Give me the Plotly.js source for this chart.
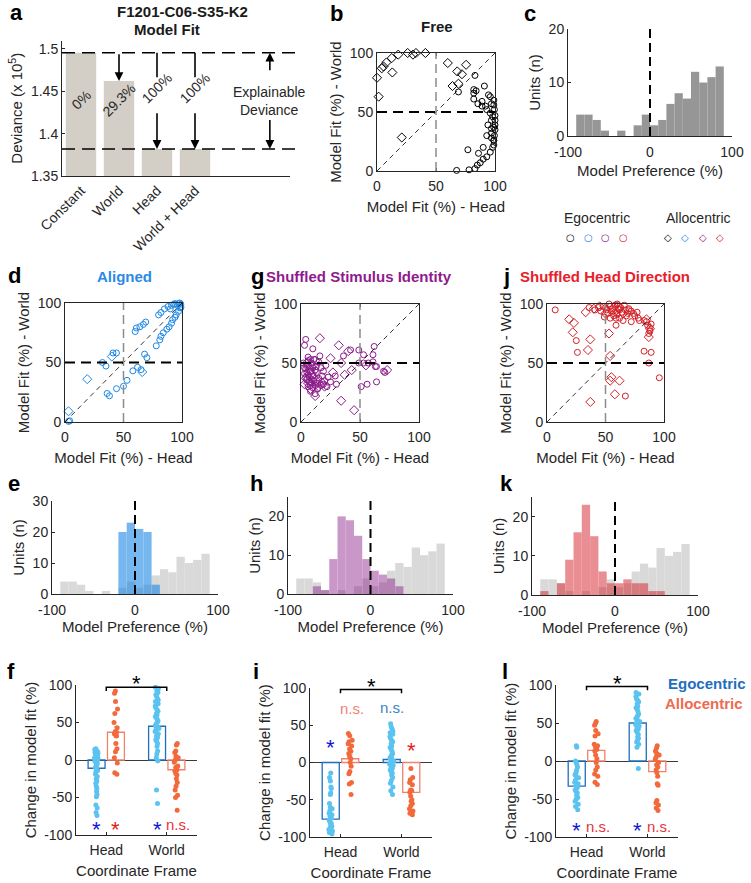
<!DOCTYPE html>
<html><head><meta charset="utf-8">
<script src="https://cdn.plot.ly/plotly-3.0.1.min.js"></script>
<style>html,body{margin:0;padding:0;background:#fff;}#chart{width:751px;height:883px;}</style>
</head><body><div id="chart"></div>
<script>
// ---------------- DATA ----------------
// Panel a
const aCats = ['Constant', 'World', 'Head', 'World + Head'];
const aDeviance = [1.4955, 1.4622, 1.382, 1.382];
const aFitLabels = ['0%', '29.3%', '100%', '100%'];

// Panel b (Free)
const freeEgoHead = [83, 91, 94.5, 96, 82, 84, 82, 82, 85.5, 89, 92, 93, 96, 97, 99, 94, 93, 97, 99, 98, 96, 90, 77, 93, 90, 87.5, 85, 83, 78, 67.5, 89, 99, 99, 99.5, 100, 100, 100, 100, 99.5, 99, 99, 97, 98, 97, 97, 86, 69];
const freeEgoWorld = [81, 72, 64.5, 63, 69, 68, 66, 61, 57, 55, 55, 52, 49, 43, 37, 39, 30, 32, 26, 20, 16, 20, 18, 12, 10, 7, 5, 2, 1, 0.5, 59, 60, 56, 52, 47, 43, 39, 35, 30, 26, 22, 57, 46, 36, 28, 15, 67];
const freeAlloHead = [0, 1.4, 4, 5.5, 8, 12.5, 13, 18, 26, 30.5, 33, 41, 21, 60, 75.5, 68, 72, 64, 69];
const freeAlloWorld = [79, 63, 87, 88.6, 92, 95.7, 83.5, 98.6, 100, 98.6, 100, 100, 28.4, 91.5, 90, 84.4, 82, 72, 74];

// Panel c / histograms
const histBins = [-85, -75, -65, -55, -45, -35, -25, -15, -5, 5, 15, 25, 35, 45, 55, 65, 75, 85];
const freePrefCounts = [4, 4, 3, 1, 0, 1, 0, 2, 4, 2, 3, 6, 8, 7, 12, 10, 11, 13];
const alignedPrefCounts = [0, 0, 0, 0, 0, 0, 0, 20, 23, 21, 20, 3, 0, 0, 0, 0, 0, 0];
const stimShufPrefCounts = [0, 0, 2, 1, 9, 20, 19, 15, 9, 6, 5, 4, 2, 0, 0, 0, 0, 0];
const hdShufPrefCounts = [1, 0, 3, 9, 16, 23, 15, 6, 3, 3, 4, 3, 3, 1, 1, 0, 0, 0];

// Panel d (Aligned)
const alignEgoHead = [4, 3, 32, 35, 41, 44, 36, 38, 44, 50, 53, 58, 62, 65, 68, 70, 60, 61, 64, 67, 69, 78, 81, 82, 84, 87, 89, 91, 92, 94, 95, 97, 98, 99, 80, 82, 85, 88, 91, 94, 97, 99, 99, 96, 98, 93, 90];
const alignEgoWorld = [1, 0.5, 50, 47, 58, 58, 24, 22, 28, 30, 35, 43, 46, 44, 57, 54, 76, 79, 80, 82, 84, 64, 69, 72, 75, 78, 80, 83, 86, 88, 90, 93, 96, 97, 90, 92, 95, 97, 98, 99.5, 99.5, 99, 96, 98, 100, 99, 95];
const alignAlloHead = [3, 19, 40, 66];
const alignAlloWorld = [9, 36, 55, 42];

// Panel g (Shuffled Stimulus Identity)
const stimEgoHead = [3, 4, 10, 2, 3, 5, 6, 8, 9, 10, 12, 13, 15, 16, 18, 19, 22, 25, 29, 30, 36, 42, 49, 49, 53, 53, 51, 56, 57, 61, 62, 61, 63, 64, 64, 70, 71, 4, 5, 6, 7, 8, 6, 7, 9, 11, 12, 14, 10, 8, 7, 5, 9, 11, 13, 15, 17, 20, 23, 14, 12, 4, 3, 6, 8, 10, 17, 19, 21];
const stimEgoWorld = [65, 70, 62, 50, 41, 36, 30, 26, 33, 39, 44, 47, 51, 56, 39, 32, 30, 34, 39, 32, 56, 61, 50, 61, 57, 50, 30, 32, 50, 51, 64, 57, 47, 47, 34, 43, 42, 45, 48, 52, 47, 43, 40, 38, 36, 35, 31, 33, 29, 31, 34, 42, 50, 53, 42, 37, 31, 35, 38, 28, 24, 38, 46, 55, 53, 46, 46, 43, 48];
const stimAlloHead = [16, 32, 25, 34, 43, 37, 34, 45, 12, 73, 40, 27, 55, 5, 7, 9, 11, 13, 6, 8, 10, 12, 4, 3, 15, 18, 20];
const stimAlloWorld = [71, 65, 54, 50, 44, 40, 18, 10, 22, 44, 60, 42, 48, 50, 45, 41, 38, 35, 33, 28, 48, 52, 37, 32, 30, 33, 30];

// Panel j (Shuffled Head Direction)
const hdEgoHead = [7, 25, 26, 59, 83, 89, 87, 96, 67, 36, 41, 44, 48, 51, 54, 58, 61, 64, 67, 69, 72, 75, 77, 79, 72, 65, 54, 49, 57, 59, 62, 83, 85, 86, 88, 88, 87, 89, 52, 55, 58, 60, 63, 66, 70, 56, 53, 60, 46, 50, 62, 68, 74, 78];
const hdEgoWorld = [95, 69, 59, 82, 60, 59, 50, 37.5, 22, 97, 95, 97, 98, 95, 98, 99, 96, 93, 95, 92, 94, 90, 93, 86, 85, 86, 88, 89, 90, 88, 88, 86, 85, 82, 80, 77, 75, 83, 92, 94, 93, 91, 97, 99, 96, 96, 100, 100, 94, 97, 95, 90, 92, 88];
const hdAlloHead = [33, 19, 23, 22, 37, 35, 58, 62, 55, 54, 53, 54, 37, 40, 45, 57, 61, 65, 85, 87, 88, 70, 50];
const hdAlloWorld = [93, 87, 84, 76, 70, 61, 23.5, 35, 38, 35, 75, 56, 17, 96, 98, 97, 98, 92, 87, 72, 79, 94, 92];

// Panels f, i, l (change in model fit)
const frameCats = ['Head', 'World'];
const fEgoMean = [-11, 45], fAlloMean = [37, -13], fEgoSem = [3, 4], fAlloSem = [7, 5];
const fEgoHead = [15, 14, 13, 12, 11, 10, 9, 8, 7, 6, 5, 5, 4, 3, 2, 2, 1, 0, 0, -1, -2, -2, -3, -4, -5, -7, -8, -10, -12, -14, -16, -19, -22, -25, -28, -31, -35, -38, -42, -46, -49, -60, -64, -70, -74];
const fAlloHead = [92, 89, 78, 68, 62, 50, 43, 38, 37, 35, 34, 32, 22, 15, 11, 3, -4, -17, -19];
const fEgoWorld = [97, 95, 92, 90, 87, 85, 82, 80, 78, 75, 72, 70, 67, 65, 62, 60, 58, 56, 54, 52, 50, 48, 46, 44, 42, 40, 38, 35, 32, 30, 27, 25, 22, 18, 12, 8, 3, -1, -40, -58];
const fAlloWorld = [22, 20, 12, 10, 5, 3, 0, -3, -8, -10, -13, -15, -18, -20, -25, -30, -35, -40, -47, -50, -67];

const iEgoMean = [-76, 4], iAlloMean = [5, -40], iEgoSem = [5, 3], iAlloSem = [6, 5];
const iEgoHead = [-14, -20, -25, -33, -35, -41, -43, -55, -60, -62, -65, -68, -70, -72, -75, -78, -80, -82, -84, -86, -88, -90, -92, -94, -96];
const iAlloHead = [39, 36, 30, 28, 25, 22, 18, 15, 12, 8, 5, 0, -5, -12, -15, -27, -29, -43];
const iEgoWorld = [52, 48, 45, 42, 40, 38, 35, 33, 30, 28, 25, 22, 20, 18, 15, 12, 10, 8, 6, 4, 2, 0, -2, -4, -6, -8, -10, -12, -14, -17, -20, -24, -28, -33, -38, -43];
const iAlloWorld = [-8, -20, -23, -27, -30, -37, -38, -40, -45, -50, -52, -55, -58, -62, -65, -68, -70];

const lEgoMean = [-33, 50], lAlloMean = [14, -14], lEgoSem = [4, 4], lAlloSem = [6, 7];
const lEgoHead = [20, 18, 0, -2, -5, -8, -12, -15, -18, -20, -22, -25, -28, -30, -33, -35, -38, -40, -42, -45, -48, -50, -53, -57, -60, -64];
const lAlloHead = [52, 50, 47, 40, 36, 33, 22, 20, 18, 15, 13, 8, 3, -2, -8, -12, -17, -20, -28, -31];
const lEgoWorld = [90, 88, 85, 82, 80, 78, 75, 72, 70, 68, 65, 62, 60, 58, 56, 54, 52, 50, 48, 46, 44, 42, 40, 38, 35, 32, 30, 27, 25, 22, 18, -10];
const lAlloWorld = [20, 17, 13, 10, 8, 5, 2, -2, -5, -8, -12, -15, -20, -30, -32, -52, -55, -58, -62, -65];

// ---------------- STYLE / LAYOUT ----------------
const W = 751, H = 883;
const FONT = '"Liberation Sans", Arial, Helvetica, sans-serif';
const TXT = '#262626';
const C = {
  free: '#000000', aligned: '#1E88E5', stim: '#8B1A89', hd: '#D42027',
  egoBar: '#1F6FBF', alloBar: '#F0826E', egoDot: '#5BC3F0', alloDot: '#F26A3C',
  hist: '#969696', histLight: '#d9d9d9'
};
const xd = (l, r) => [l / W, r / W];
const yd = (t, b) => [1 - b / H, 1 - t / H];

function axis(extra) {
  return Object.assign({
    showgrid: false, zeroline: false, showline: true, linecolor: TXT, linewidth: 1,
    ticks: 'inside', ticklen: 3, tickcolor: TXT, automargin: false, fixedrange: true,
    tickfont: {size: 14, color: TXT, family: FONT}
  }, extra);
}
function ttl(t, so, sz) { return {text: t, standoff: so, font: {size: sz || 15, color: TXT, family: FONT}}; }

const layout = {
  width: W, height: H, margin: {l: 0, r: 0, t: 0, b: 0},
  paper_bgcolor: '#ffffff', plot_bgcolor: 'rgba(0,0,0,0)', showlegend: false,
  barmode: 'overlay', font: {family: FONT, size: 14, color: TXT},
  shapes: [], annotations: []
};

const traces = [];

// ---- Panel a ----
layout.xaxis = axis({domain: xd(62, 290), anchor: 'y', range: [0.5, 6.5], tickvals: [1, 2, 3, 4], ticktext: aCats, tickangle: -45, ticks: ''});
layout.yaxis = axis({domain: yd(40.5, 176), anchor: 'x', range: [1.35, 1.51], tickvals: [1.35, 1.4, 1.45, 1.5], ticktext: ['1.35', '1.4', '1.45', '1.5'], title: ttl('Deviance (x 10<sup>5</sup>)', 4)});
traces.push({type: 'bar', x: [1, 2, 3, 4], y: aDeviance, width: 0.8, marker: {color: '#d4cfc6', line: {width: 0}}, xaxis: 'x', yaxis: 'y', hoverinfo: 'skip'});
const dashA = {color: '#000', width: 1.5, dash: '13px,7px'};
layout.shapes.push({type: 'line', xref: 'paper', yref: 'y', x0: 62 / W, x1: 298 / W, y0: aDeviance[0], y1: aDeviance[0], line: dashA});
layout.shapes.push({type: 'line', xref: 'paper', yref: 'y', x0: 62 / W, x1: 298 / W, y0: aDeviance[2], y1: aDeviance[2], line: dashA});
function arrow(x, yHead, yTail) {
  return {xref: 'x', yref: 'y', axref: 'x', ayref: 'y', x: x, y: yHead, ax: x, ay: yTail, text: '', showarrow: true,
    arrowhead: 2, arrowsize: 1.1, arrowwidth: 1.6, arrowcolor: '#000', standoff: 0, startstandoff: 0};
}
layout.annotations.push(arrow(2, aDeviance[1], aDeviance[0]));
[3, 4].forEach(xx => {
  layout.shapes.push({type: 'line', xref: 'x', yref: 'y', x0: xx, x1: xx, y0: aDeviance[0], y1: 1.4666, line: {color: '#000', width: 1.6}});
  layout.annotations.push(arrow(xx, aDeviance[xx - 1], 1.426));
});
layout.annotations.push(arrow(5.97, aDeviance[0], 1.473));
layout.annotations.push(arrow(5.97, aDeviance[2], 1.418));
const pctY = [1.440, 1.440, 1.454, 1.454];
aFitLabels.forEach((t, k) => layout.annotations.push({xref: 'x', yref: 'y', x: k + 1, y: pctY[k], text: t, textangle: -45, showarrow: false, font: {size: 14, color: TXT}}));
layout.annotations.push({xref: 'x', yref: 'y', x: 5.97, y: 1.4495, text: 'Explainable', showarrow: false, font: {size: 14, color: TXT}});
layout.annotations.push({xref: 'x', yref: 'y', x: 5.97, y: 1.428, text: 'Deviance', showarrow: false, font: {size: 14, color: TXT}});

// ---- scatter panels ----
function scatterPanel(n, domX, domY, eh, ew, ah, aw, col) {
  const xa = 'x' + n, ya = 'y' + n;
  layout['xaxis' + n] = axis({domain: domX, anchor: ya, range: [0, 100], tickvals: [0, 50, 100], mirror: 'ticks', ticklabelstandoff: 2, title: ttl('Model Fit (%) - Head', 8)});
  layout['yaxis' + n] = axis({domain: domY, anchor: xa, range: [0, 100], tickvals: [0, 50, 100], mirror: 'ticks', title: ttl('Model Fit (%) - World', 4)});
  layout.shapes.push({type: 'line', xref: xa, yref: ya, x0: 0, y0: 0, x1: 100, y1: 100, line: {color: '#000', width: 0.8, dash: '5px,4px'}});
  layout.shapes.push({type: 'line', xref: xa, yref: ya, x0: 50, y0: 0, x1: 50, y1: 100, line: {color: '#8c8c8c', width: 1.5, dash: '9px,5px'}});
  layout.shapes.push({type: 'line', xref: xa, yref: ya, x0: 0, y0: 50, x1: 100, y1: 50, line: {color: '#000', width: 2, dash: '10px,6px'}});
  traces.push({type: 'scatter', mode: 'markers', x: eh, y: ew, xaxis: xa, yaxis: ya, cliponaxis: false,
    marker: {symbol: 'circle-open', size: 6, color: col, line: {width: 1, color: col}}, hoverinfo: 'skip'});
  traces.push({type: 'scatter', mode: 'markers', x: ah, y: aw, xaxis: xa, yaxis: ya, cliponaxis: false,
    marker: {symbol: 'diamond-open', size: 7, color: col, line: {width: 1, color: col}}, hoverinfo: 'skip'});
}
scatterPanel(2, xd(377, 495), yd(53, 171), freeEgoHead, freeEgoWorld, freeAlloHead, freeAlloWorld, C.free);
scatterPanel(4, xd(65, 182), yd(303, 422), alignEgoHead, alignEgoWorld, alignAlloHead, alignAlloWorld, C.aligned);
scatterPanel(5, xd(301, 419), yd(304, 422), stimEgoHead, stimEgoWorld, stimAlloHead, stimAlloWorld, C.stim);
scatterPanel(6, xd(547, 664), yd(304, 422), hdEgoHead, hdEgoWorld, hdAlloHead, hdAlloWorld, C.hd);

// ---- histogram panels ----
function histPanel(n, domX, domY, yMax, yTicks, overlay, col, alpha, tStand) {
  const xa = 'x' + n, ya = 'y' + n;
  layout['xaxis' + n] = axis({domain: domX, anchor: ya, range: [-100, 100], tickvals: [-100, 0, 100], ticktext: ['-100', '0', '100'], ticklabelstandoff: 3, title: ttl('Model Preference (%)', tStand || 3)});
  layout['yaxis' + n] = axis({domain: domY, anchor: xa, range: [0, yMax], tickvals: yTicks, title: ttl('Units (n)', 4)});
  traces.push({type: 'bar', x: histBins, y: freePrefCounts, width: 10, xaxis: xa, yaxis: ya,
    marker: {color: overlay ? C.histLight : C.hist, line: {width: 0}}, hoverinfo: 'skip'});
  if (overlay) {
    traces.push({type: 'bar', x: histBins, y: overlay, width: 10, xaxis: xa, yaxis: ya, opacity: alpha,
      marker: {color: col, line: {width: 0}}, hoverinfo: 'skip'});
  }
  layout.shapes.push({type: 'line', xref: xa, yref: ya, x0: 0, x1: 0, y0: 0, y1: yMax, line: {color: '#000', width: 2, dash: '9px,5px'}});
}
histPanel(3, xd(568, 732), yd(29, 136), 20, [0, 10, 20], null, null, 1, 6);
histPanel(7, xd(52, 218), yd(501, 594), 30, [0, 10, 20, 30], alignedPrefCounts, C.aligned, 0.6);
histPanel(8, xd(288, 453), yd(497, 594), 25, [0, 10, 20], stimShufPrefCounts, C.stim, 0.45);
histPanel(9, xd(532, 698), yd(497, 595), 25, [0, 10, 20], hdShufPrefCounts, C.hd, 0.5);

// ---- change in model fit panels ----
function changePanel(n, domX, domY, egoMean, alloMean, egoSem, alloSem, eH, aH, eW, aW, bracketY) {
  const xa = 'x' + n, ya = 'y' + n;
  layout['xaxis' + n] = axis({domain: domX, anchor: ya, range: [0.5, 2.5], tickvals: [1, 2], ticktext: frameCats, ticklabelstandoff: 2, title: ttl('Coordinate Frame', 8)});
  layout['yaxis' + n] = axis({domain: domY, anchor: xa, range: [-100, 100], tickvals: [-100, -50, 0, 50, 100], ticktext: ['-100', '-50', '0', '50', '100'],
    zeroline: true, zerolinecolor: '#3a3a3a', zerolinewidth: 1, title: ttl('Change in model fit (%)', 3)});
  traces.push({type: 'bar', x: [1, 2], y: egoMean, offset: -0.30, width: 0.28, xaxis: xa, yaxis: ya,
    marker: {color: 'rgba(255,255,255,0)', line: {color: C.egoBar, width: 1.3}},
    error_y: {type: 'data', array: egoSem, color: C.egoBar, thickness: 1, width: 2}, hoverinfo: 'skip'});
  traces.push({type: 'bar', x: [1, 2], y: alloMean, offset: 0.02, width: 0.28, xaxis: xa, yaxis: ya,
    marker: {color: 'rgba(255,255,255,0)', line: {color: C.alloBar, width: 1.3}},
    error_y: {type: 'data', array: alloSem, color: C.alloBar, thickness: 1, width: 2}, hoverinfo: 'skip'});
  const strips = [[eH, 0.84, C.egoDot], [aH, 1.16, C.alloDot], [eW, 1.84, C.egoDot], [aW, 2.16, C.alloDot]];
  strips.forEach(s => traces.push({type: 'box', y: s[0], x0: s[1], width: 0.16, boxpoints: 'all', jitter: 0.45, pointpos: 0,
    xaxis: xa, yaxis: ya, fillcolor: 'rgba(0,0,0,0)', line: {width: 0, color: 'rgba(0,0,0,0)'}, whiskerwidth: 0,
    marker: {size: 5, color: s[2]}, hoverinfo: 'skip'}));
  layout.shapes.push({type: 'path', xref: xa, yref: ya, path: `M 1,${bracketY - 5} L 1,${bracketY} L 2,${bracketY} L 2,${bracketY - 5}`, line: {color: '#000', width: 1.5}});
  layout.annotations.push({xref: xa, yref: ya + ' domain', x: 1.5, y: 1.012, xanchor: 'center', yanchor: 'middle', text: '*', showarrow: false, font: {size: 22, color: '#000'}});
}
changePanel(10, xd(76, 197), yd(685, 835), fEgoMean, fAlloMean, fEgoSem, fAlloSem, fEgoHead, fAlloHead, fEgoWorld, fAlloWorld, 97);
changePanel(11, xd(310, 432), yd(688, 837), iEgoMean, iAlloMean, iEgoSem, iAlloSem, iEgoHead, iAlloHead, iEgoWorld, iAlloWorld, 98);
changePanel(12, xd(556, 678), yd(685, 837), lEgoMean, lAlloMean, lEgoSem, lAlloSem, lEgoHead, lAlloHead, lEgoWorld, lAlloWorld, 98);

const STAR_B = '#1414D2', STAR_R = '#E41A1A', NS_R = '#E8343A', NS_SAL = '#F0826E', NS_B = '#3A85C8';
function sig(n, x, y, t, col, size) {
  layout.annotations.push({xref: 'x' + n, yref: 'y' + n, x: x, y: y, text: t, showarrow: false, font: {size: size, color: col}});
}
sig(10, 0.84, -92, '*', STAR_B, 22); sig(10, 1.16, -92, '*', STAR_R, 22); sig(10, 1.84, -92, '*', STAR_B, 22); sig(10, 2.19, -86, 'n.s.', NS_R, 15);
sig(11, 0.84, 20, '*', STAR_B, 22); sig(11, 1.19, 72, 'n.s.', NS_SAL, 15); sig(11, 1.84, 74, 'n.s.', NS_B, 15); sig(11, 2.16, 16, '*', STAR_R, 22);
sig(12, 0.84, -92, '*', STAR_B, 22); sig(12, 1.19, -86, 'n.s.', NS_R, 15); sig(12, 1.84, -92, '*', STAR_B, 22); sig(12, 2.19, -86, 'n.s.', NS_R, 15);

// ---- text annotations (paper) ----
function P(x, y, text, o) {
  return Object.assign({xref: 'paper', yref: 'paper', x: x / W, y: 1 - y / H, text: text, showarrow: false,
    xanchor: 'center', yanchor: 'middle', font: {family: FONT, size: 14, color: TXT}}, o || {});
}
const letters = [['a', 16, 12], ['b', 336, 14], ['c', 530, 14], ['d', 14, 275], ['g', 257, 276], ['j', 506, 276],
  ['e', 14, 483], ['h', 256, 483], ['k', 506, 483], ['f', 11, 671], ['i', 256, 671], ['l', 505, 671]];
letters.forEach(l => layout.annotations.push(P(l[1], l[2], '<b>' + l[0] + '</b>', {font: {family: FONT, size: 22, color: '#000'}})));
const boldT = (x, y, t, col) => P(x, y, '<b>' + t + '</b>', {font: {family: FONT, size: 15, color: col}});
layout.annotations.push(boldT(182, 11, 'F1201-C06-S35-K2', '#1a1a1a'));
layout.annotations.push(boldT(167, 30, 'Model Fit', '#1a1a1a'));
layout.annotations.push(boldT(437, 27, 'Free', '#1a1a1a'));
layout.annotations.push(boldT(124, 277, 'Aligned', '#2a8ae6'));
layout.annotations.push(boldT(359, 277, 'Shuffled Stimulus Identity', '#8E1B8E'));
layout.annotations.push(boldT(605, 277, 'Shuffled Head Direction', '#E8202A'));
layout.annotations.push(P(597, 218, 'Egocentric'));
layout.annotations.push(P(698, 218, 'Allocentric'));
const legCols = [C.free, C.aligned, C.stim, C.hd];
const legCircX = [570, 588, 605, 623], legDiaX = [668, 685, 703, 720];
legCols.forEach((c, k) => {
  layout.annotations.push(P(legCircX[k], 238, '○', {font: {family: 'DejaVu Sans', size: 10, color: c}}));
  layout.annotations.push(P(legDiaX[k], 238, '◇', {font: {family: 'DejaVu Sans', size: 10, color: c}}));
});
layout.annotations.push(boldT(707, 683, 'Egocentric', C.egoBar));
layout.annotations.push(boldT(704, 703, 'Allocentric', '#EE6A50'));

Plotly.newPlot('chart', traces, layout, {displayModeBar: false, staticPlot: true});
</script></body></html>
